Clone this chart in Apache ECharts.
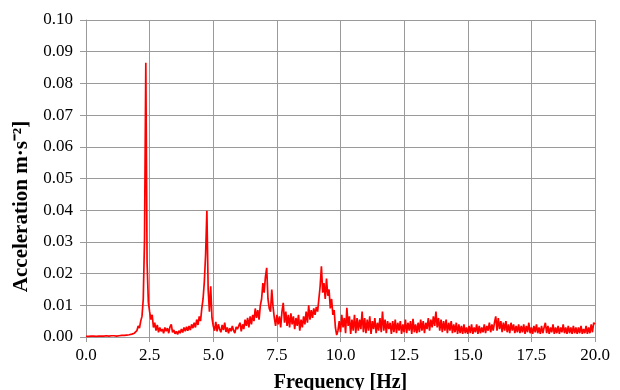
<!DOCTYPE html>
<html>
<head>
<meta charset="utf-8">
<script src="https://cdn.jsdelivr.net/npm/echarts@6/dist/echarts.min.js"></script>
<style>
  html, body { margin: 0; padding: 0; background: #fff; }
  #chart { width: 620px; height: 390px; }
</style>
</head>
<body>
<div id="chart"></div>
<script>
// spectrum sampled every 0.05 Hz, one row per 1 Hz
const freqStep = 0.05;
const accel = [
  // 0 - 1 Hz
  0.0002,0.0002,0.0002,0.0002,0.0003,0.0002,0.0003,0.0003,0.0002,0.0003,0.0003,0.0003,0.0003,0.0004,0.0003,0.0003,0.0004,0.0003,0.0003,0.0004,
  // 1 - 2 Hz
  0.0004,0.0003,0.0004,0.0004,0.0003,0.0004,0.0004,0.0004,0.0005,0.0004,0.0005,0.0005,0.0006,0.0005,0.0007,0.0007,0.0009,0.0010,0.0012,0.0015,
  // 2 - 3 Hz
  0.0020,0.0035,0.0028,0.0050,0.0065,0.0120,0.0310,0.0865,0.0235,0.0110,0.0080,0.0055,0.0070,0.0030,0.0045,0.0020,0.0038,0.0015,0.0030,0.0018,
  // 3 - 4 Hz
  0.0025,0.0012,0.0030,0.0018,0.0028,0.0012,0.0032,0.0040,0.0015,0.0022,0.0010,0.0018,0.0008,0.0020,0.0012,0.0025,0.0014,0.0030,0.0018,0.0032,
  // 4 - 5 Hz
  0.0020,0.0035,0.0022,0.0040,0.0028,0.0045,0.0030,0.0055,0.0038,0.0065,0.0050,0.0090,0.0120,0.0175,0.0260,0.0398,0.0150,0.0080,0.0160,0.0060,
  // 5 - 6 Hz
  0.0035,0.0020,0.0048,0.0018,0.0040,0.0025,0.0015,0.0038,0.0022,0.0045,0.0016,0.0030,0.0012,0.0028,0.0018,0.0035,0.0020,0.0012,0.0032,0.0025,
  // 6 - 7 Hz
  0.0030,0.0045,0.0018,0.0040,0.0025,0.0055,0.0035,0.0060,0.0030,0.0065,0.0040,0.0070,0.0050,0.0090,0.0060,0.0085,0.0055,0.0100,0.0120,0.0170,
  // 7 - 8 Hz
  0.0140,0.0190,0.0218,0.0120,0.0090,0.0080,0.0150,0.0095,0.0060,0.0035,0.0070,0.0040,0.0065,0.0030,0.0080,0.0108,0.0045,0.0080,0.0035,0.0070,
  // 8 - 9 Hz
  0.0030,0.0075,0.0040,0.0065,0.0025,0.0060,0.0035,0.0070,0.0020,0.0055,0.0030,0.0065,0.0040,0.0080,0.0045,0.0100,0.0055,0.0085,0.0060,0.0090,
  // 9 - 10 Hz
  0.0070,0.0095,0.0080,0.0120,0.0160,0.0223,0.0140,0.0170,0.0120,0.0184,0.0130,0.0150,0.0090,0.0120,0.0070,0.0085,0.0030,0.0006,0.0020,0.0050,
  // 10 - 11 Hz
  0.0015,0.0070,0.0030,0.0060,0.0012,0.0092,0.0035,0.0065,0.0010,0.0055,0.0020,0.0070,0.0012,0.0060,0.0020,0.0055,0.0025,0.0080,0.0015,0.0060,
  // 11 - 12 Hz
  0.0012,0.0055,0.0020,0.0065,0.0010,0.0050,0.0025,0.0060,0.0012,0.0045,0.0020,0.0060,0.0015,0.0080,0.0020,0.0055,0.0012,0.0050,0.0025,0.0045,
  // 12 - 13 Hz
  0.0010,0.0050,0.0015,0.0055,0.0012,0.0045,0.0020,0.0050,0.0010,0.0040,0.0015,0.0055,0.0012,0.0045,0.0020,0.0050,0.0010,0.0057,0.0015,0.0040,
  // 13 - 14 Hz
  0.0012,0.0045,0.0015,0.0055,0.0020,0.0050,0.0012,0.0045,0.0025,0.0060,0.0020,0.0055,0.0030,0.0065,0.0035,0.0080,0.0030,0.0060,0.0020,0.0055,
  // 14 - 15 Hz
  0.0015,0.0050,0.0020,0.0055,0.0012,0.0045,0.0020,0.0050,0.0012,0.0040,0.0015,0.0045,0.0010,0.0040,0.0012,0.0035,0.0010,0.0040,0.0012,0.0030,
  // 15 - 16 Hz
  0.0010,0.0035,0.0012,0.0040,0.0010,0.0030,0.0015,0.0040,0.0010,0.0035,0.0012,0.0030,0.0015,0.0040,0.0012,0.0035,0.0020,0.0045,0.0015,0.0040,
  // 16 - 17 Hz
  0.0020,0.0045,0.0065,0.0020,0.0060,0.0025,0.0050,0.0015,0.0045,0.0020,0.0050,0.0015,0.0040,0.0012,0.0045,0.0020,0.0040,0.0012,0.0035,0.0015,
  // 17 - 18 Hz
  0.0040,0.0012,0.0035,0.0015,0.0040,0.0010,0.0035,0.0015,0.0045,0.0012,0.0030,0.0010,0.0035,0.0015,0.0040,0.0012,0.0030,0.0010,0.0035,0.0012,
  // 18 - 19 Hz
  0.0030,0.0045,0.0012,0.0035,0.0010,0.0030,0.0015,0.0040,0.0010,0.0030,0.0012,0.0035,0.0010,0.0030,0.0015,0.0040,0.0012,0.0030,0.0010,0.0035,
  // 19 - 20 Hz
  0.0012,0.0030,0.0010,0.0035,0.0012,0.0030,0.0010,0.0030,0.0012,0.0035,0.0010,0.0025,0.0012,0.0035,0.0010,0.0030,0.0012,0.0040,0.0015,0.0045,
  // 20 Hz
  0.0040
];

const points = accel.map((v, i) => [+(i * freqStep).toFixed(2), v]);

const font = "Liberation Serif";
const gridColor = "#9a9a9a";

const option = {
  animation: false,
  backgroundColor: "#fff",
  grid: { left: 86, right: 25, top: 20, bottom: 53, outerBoundsMode: "none" },
  xAxis: {
    type: "value",
    min: 0,
    max: 20,
    interval: 2.5,
    name: "Frequency [Hz]",
    nameLocation: "middle",
    nameGap: 36,
    nameTextStyle: { fontFamily: font, fontSize: 20, fontWeight: "bold", color: "#000" },
    axisLine: { lineStyle: { color: gridColor } },
    axisTick: { show: true, length: 5, lineStyle: { color: gridColor } },
    axisLabel: { fontFamily: font, fontSize: 17, color: "#000", margin: 10, formatter: (v) => v.toFixed(1) },
    splitLine: { show: true, lineStyle: { color: gridColor, width: 1 } },
  },
  yAxis: {
    type: "value",
    min: 0,
    max: 0.1,
    interval: 0.01,
    name: "Acceleration m·s⁻²]",
    nameLocation: "middle",
    nameGap: 47,
    nameTextStyle: {
      fontFamily: font, fontSize: 21, fontWeight: "bold", color: "#000",
      padding: [0, 56, 0, 0],
    },
    axisLine: { show: true, lineStyle: { color: gridColor } },
    axisTick: { show: true, length: 6, lineStyle: { color: gridColor } },
    axisLabel: { fontFamily: font, fontSize: 17, color: "#000", margin: 13, formatter: (v) => v.toFixed(2) },
    splitLine: { show: true, lineStyle: { color: gridColor, width: 1 } },
  },
  series: [
    {
      type: "line",
      data: points,
      showSymbol: false,
      lineStyle: { color: "#ff0000", width: 1.7 },
      z: 3,
    },
  ],
};

echarts.init(document.getElementById("chart")).setOption(option);
</script>
</body>
</html>
